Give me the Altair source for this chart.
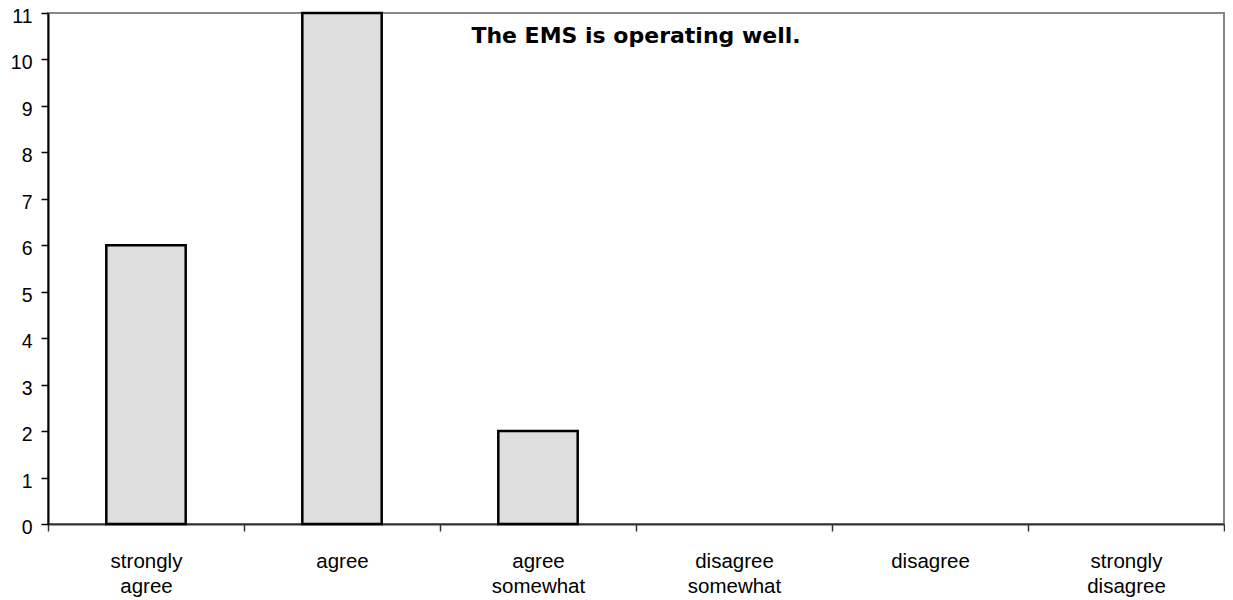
import altair as alt
import pandas as pd

categories = ["strongly agree", "agree", "agree somewhat", "disagree somewhat", "disagree", "strongly disagree"]
counts = [6, 11, 2, 0, 0, 0]
y_ticks = list(range(0, 12))
title_text = "The EMS is operating well."

df = pd.DataFrame({"category": categories, "count": counts})

FONT = "Liberation Sans"

chart = (
    alt.Chart(df)
    .transform_filter("datum.count > 0")
    .mark_bar(width={"band": 0.405}, fill="#dedede", stroke="black", strokeWidth=2.5)
    .encode(
        x=alt.X(
            "category:N",
            sort=categories,
            scale=alt.Scale(domain=categories, paddingInner=0, paddingOuter=0),
            axis=alt.Axis(
                title=None,
                labelAngle=0,
                labelExpr="split(datum.label, ' ')",
                labelFont=FONT,
                labelFontSize=20.5,
                labelColor="black",
                labelLineHeight=25,
                labelPadding=20,
                labelBaseline="top",
                tickBand="extent",
                tickSize=7,
                tickColor="#333",
                tickWidth=1.5,
                domainColor="#333",
                domainWidth=2,
                grid=False,
            ),
        ),
        y=alt.Y(
            "count:Q",
            scale=alt.Scale(domain=[0, 11], nice=False),
            axis=alt.Axis(
                title=None,
                values=y_ticks,
                labelFont=FONT,
                labelFontSize=19.5,
                labelColor="black",
                labelPadding=9,
                labelOffset=3.5,
                tickSize=7,
                tickColor="black",
                tickWidth=1.5,
                domainColor="black",
                domainWidth=2,
                grid=False,
            ),
        ),
    )
    .properties(
        width=1176,
        height=511,
        padding={"left": 40, "top": 5, "right": 1, "bottom": 84},
        autosize=alt.AutoSizeParams(type="none"),
        title=alt.TitleParams(
            text=title_text,
            font="DejaVu Sans",
            fontSize=22,
            fontWeight="bold",
            color="black",
            anchor="middle",
            baseline="alphabetic",
            offset=0,
            dx=0,
            dy=58.5,
        ),
    )
    .configure_view(stroke="#888", strokeWidth=2)
)

chart.save("out.html", embed_options={"renderer": "svg", "actions": False})
